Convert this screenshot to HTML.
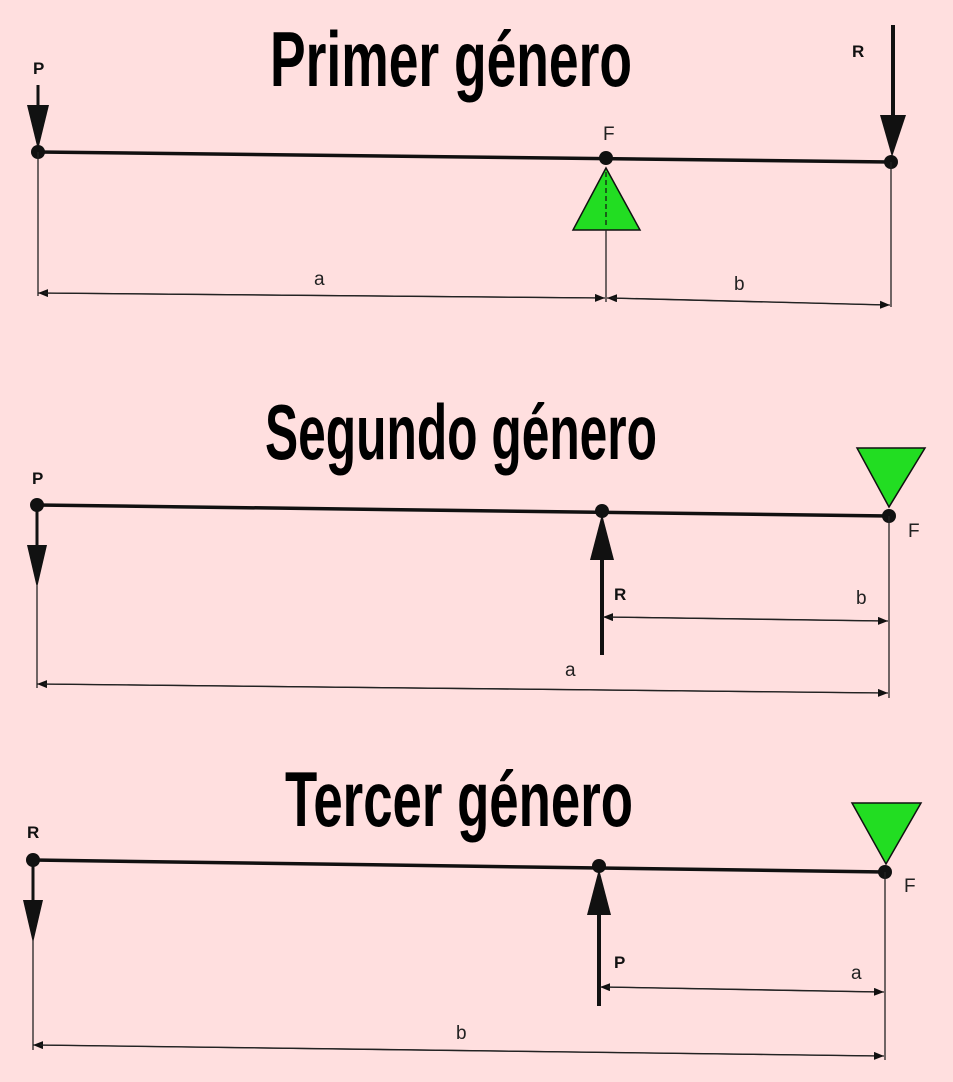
<!DOCTYPE html>
<html><head><meta charset="utf-8"><style>
html,body{margin:0;padding:0;background:#FFDFDF;}
svg{display:block}
.t{font-family:"Liberation Sans Narrow","Liberation Sans",sans-serif;font-weight:bold;font-size:78px;fill:#000}
.l{font-family:"Liberation Sans",sans-serif;font-weight:bold;font-size:17px;fill:#111}
.s{font-family:"Liberation Sans",sans-serif;font-size:19px;fill:#222}
</style></head><body>
<svg width="953" height="1082" viewBox="0 0 953 1082" xmlns="http://www.w3.org/2000/svg">
<rect width="953" height="1082" fill="#FFDFDF"/>
<defs>
<marker id="ar" markerWidth="10" markerHeight="8" refX="10" refY="4" orient="auto" markerUnits="userSpaceOnUse"><path d="M0,0 L10,4 L0,8 z" fill="#111"/></marker>
</defs>
<!-- Section 1 -->
<text class="t" x="270" y="86" textLength="362" lengthAdjust="spacingAndGlyphs">Primer género</text>
<line x1="38" y1="152" x2="891" y2="162" stroke="#111" stroke-width="3.5"/>
<circle cx="38" cy="152" r="7" fill="#111"/><circle cx="606" cy="158" r="7" fill="#111"/><circle cx="891" cy="162" r="7" fill="#111"/>
<text class="l" x="33" y="74">P</text>
<line x1="38" y1="85" x2="38" y2="110" stroke="#111" stroke-width="3"/>
<path d="M27,105 L49,105 L38,150 z" fill="#111"/>
<text class="l" x="852" y="57">R</text>
<line x1="893" y1="25" x2="893" y2="120" stroke="#111" stroke-width="4"/>
<path d="M880,115 L906,115 L892,157 z" fill="#111"/>
<text class="s" x="603" y="140">F</text>
<path d="M606,168 L640,230 L573,230 z" fill="#22DD22" stroke="#111" stroke-width="1.5"/>
<line x1="606" y1="172" x2="606" y2="228" stroke="#111" stroke-width="1.2" stroke-dasharray="5,3"/>
<line x1="38" y1="152" x2="38" y2="296" stroke="#222" stroke-width="1.3"/>
<line x1="606" y1="230" x2="606" y2="302" stroke="#222" stroke-width="1.3"/>
<line x1="891" y1="162" x2="891" y2="307" stroke="#222" stroke-width="1.3"/>
<line x1="600" y1="298" x2="38" y2="293" stroke="#222" stroke-width="1.3" marker-end="url(#ar)"/>
<line x1="44" y1="293" x2="605" y2="298" stroke="#222" stroke-width="1.3" marker-end="url(#ar)"/>
<line x1="885" y1="305" x2="607" y2="298" stroke="#222" stroke-width="1.3" marker-end="url(#ar)"/>
<line x1="612" y1="298" x2="890" y2="305" stroke="#222" stroke-width="1.3" marker-end="url(#ar)"/>
<text class="s" x="314" y="285">a</text>
<text class="s" x="734" y="290">b</text>
<!-- Section 2 -->
<text class="t" x="265" y="459" textLength="392" lengthAdjust="spacingAndGlyphs">Segundo género</text>
<line x1="37" y1="505" x2="889" y2="516" stroke="#111" stroke-width="3.5"/>
<circle cx="37" cy="505" r="7" fill="#111"/><circle cx="602" cy="511" r="7" fill="#111"/><circle cx="889" cy="516" r="7" fill="#111"/>
<text class="l" x="32" y="484">P</text>
<line x1="37" y1="505" x2="37" y2="550" stroke="#111" stroke-width="3"/>
<path d="M27,545 L47,545 L37,588 z" fill="#111"/>
<path d="M857,448 L925,448 L889,507 z" fill="#22DD22" stroke="#111" stroke-width="1.5"/>
<text class="s" x="908" y="537">F</text>
<line x1="602" y1="655" x2="602" y2="555" stroke="#111" stroke-width="4"/>
<path d="M590,560 L614,560 L602,514 z" fill="#111"/>
<text class="l" x="614" y="600">R</text>
<text class="s" x="856" y="604">b</text>
<line x1="37" y1="586" x2="37" y2="688" stroke="#222" stroke-width="1.3"/>
<line x1="889" y1="516" x2="889" y2="698" stroke="#222" stroke-width="1.3"/>
<line x1="880" y1="621" x2="603" y2="617" stroke="#222" stroke-width="1.3" marker-end="url(#ar)"/>
<line x1="610" y1="617" x2="888" y2="621" stroke="#222" stroke-width="1.3" marker-end="url(#ar)"/>
<line x1="880" y1="693" x2="37" y2="684" stroke="#222" stroke-width="1.3" marker-end="url(#ar)"/>
<line x1="44" y1="684" x2="888" y2="693" stroke="#222" stroke-width="1.3" marker-end="url(#ar)"/>
<text class="s" x="565" y="676">a</text>
<!-- Section 3 -->
<text class="t" x="285" y="826" textLength="348" lengthAdjust="spacingAndGlyphs">Tercer género</text>
<line x1="33" y1="860" x2="885" y2="872" stroke="#111" stroke-width="3.5"/>
<circle cx="33" cy="860" r="7" fill="#111"/><circle cx="599" cy="866" r="7" fill="#111"/><circle cx="885" cy="872" r="7" fill="#111"/>
<text class="l" x="27" y="838">R</text>
<line x1="33" y1="860" x2="33" y2="905" stroke="#111" stroke-width="3"/>
<path d="M23,900 L43,900 L33,943 z" fill="#111"/>
<path d="M852,803 L921,803 L886,864 z" fill="#22DD22" stroke="#111" stroke-width="1.5"/>
<text class="s" x="904" y="892">F</text>
<line x1="599" y1="1006" x2="599" y2="910" stroke="#111" stroke-width="4"/>
<path d="M587,915 L611,915 L599,869 z" fill="#111"/>
<text class="l" x="614" y="968">P</text>
<text class="s" x="851" y="979">a</text>
<line x1="33" y1="940" x2="33" y2="1050" stroke="#222" stroke-width="1.3"/>
<line x1="885" y1="872" x2="885" y2="1060" stroke="#222" stroke-width="1.3"/>
<line x1="876" y1="992" x2="600" y2="987" stroke="#222" stroke-width="1.3" marker-end="url(#ar)"/>
<line x1="607" y1="987" x2="884" y2="992" stroke="#222" stroke-width="1.3" marker-end="url(#ar)"/>
<line x1="876" y1="1056" x2="33" y2="1045" stroke="#222" stroke-width="1.3" marker-end="url(#ar)"/>
<line x1="40" y1="1045" x2="884" y2="1056" stroke="#222" stroke-width="1.3" marker-end="url(#ar)"/>
<text class="s" x="456" y="1039">b</text>
</svg>
</body></html>
